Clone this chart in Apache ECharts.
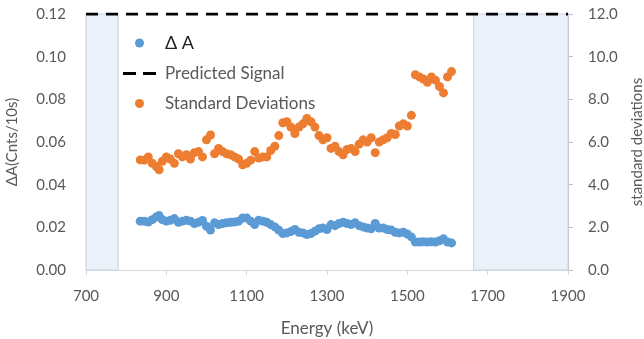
<!DOCTYPE html>
<html>
<head>
<meta charset="utf-8">
<script src="https://cdn.jsdelivr.net/npm/echarts@6/dist/echarts.min.js"></script>
<style>
    html, body {margin: 0; padding: 0; background: #fff;}
    #chart {width: 644px; height: 339px;}
</style>
</head>
<body>
<div id="chart"></div>
<script>
// energies of the measured points (keV)
const energy = [835, 845, 855, 865, 875, 882, 890, 900, 910, 920, 930, 940, 950, 960, 970, 980, 990,
    1000, 1010, 1020, 1030, 1040, 1050, 1060, 1070, 1080, 1090, 1100, 1110, 1120, 1130, 1140, 1150,
    1160, 1170, 1180, 1190, 1200, 1210, 1220, 1230, 1240, 1250, 1260, 1270, 1280, 1290, 1300, 1310,
    1320, 1330, 1340, 1350, 1360, 1370, 1380, 1390, 1400, 1410, 1420, 1430, 1440, 1450, 1460, 1470,
    1480, 1490, 1500, 1510, 1520, 1530, 1540, 1550, 1560, 1570, 1580, 1590, 1600, 1610];

// ΔA (Cnts/10s), left axis
const deltaA = [0.0229, 0.0229, 0.0225, 0.0236, 0.0249, 0.0255, 0.0236, 0.0229, 0.0233, 0.0241, 0.0224,
    0.0229, 0.0233, 0.0229, 0.0218, 0.0224, 0.0232, 0.0205, 0.0187, 0.0221, 0.0213, 0.0218, 0.0221,
    0.0224, 0.0225, 0.0229, 0.0244, 0.0244, 0.0229, 0.0213, 0.0233, 0.0229, 0.0224, 0.0213, 0.0202,
    0.0187, 0.0171, 0.0174, 0.0180, 0.0190, 0.0177, 0.0174, 0.0166, 0.0171, 0.0182, 0.0193, 0.0197,
    0.0190, 0.0213, 0.0208, 0.0218, 0.0224, 0.0218, 0.0213, 0.0221, 0.0208, 0.0202, 0.0197, 0.0193,
    0.0218, 0.0197, 0.0197, 0.0190, 0.0187, 0.0177, 0.0174, 0.0177, 0.0169, 0.0155, 0.0131, 0.0131,
    0.0132, 0.0131, 0.0132, 0.0131, 0.0137, 0.0146, 0.0131, 0.0127];

// standard deviations, right axis
const stdDev = [5.16, 5.15, 5.3, 5.0, 4.85, 4.7, 5.1, 5.3, 5.2, 5.0, 5.45, 5.3, 5.4, 5.2, 5.5, 5.55, 5.3,
    6.1, 6.33, 5.45, 5.7, 5.55, 5.45, 5.4, 5.3, 5.2, 4.93, 5.0, 5.15, 5.55, 5.25, 5.3, 5.3, 5.6, 5.8,
    6.3, 6.9, 6.95, 6.7, 6.4, 6.7, 6.85, 7.1, 6.95, 6.7, 6.3, 6.1, 6.2, 5.7, 5.8, 5.55, 5.4, 5.65, 5.7,
    5.55, 5.9, 6.1, 6.0, 6.2, 5.5, 6.0, 6.1, 6.2, 6.4, 6.35, 6.75, 6.85, 6.75, 7.25, 9.15, 9.05, 8.95,
    8.8, 9.05, 8.9, 8.6, 8.3, 9.05, 9.3];

const predictedSignal = 0.12;
const shadedBands = [[700, 780], [1665, 1900]];

let chart = echarts.init(document.getElementById('chart'));

const labelColor = '#595959';
const font = 'Lato, "Open Sans", sans-serif';

let option = {
    animation: false,
    grid: {left: 86, right: 76, top: 14, bottom: 69, containLabel: false, outerBoundsMode: 'none'},
    legend: {
        orient: 'vertical',
        left: 118,
        top: 29,
        itemGap: 13,
        itemWidth: 33,
        itemHeight: 9,
        textStyle: {color: labelColor, fontSize: 17, fontFamily: font, padding: [0, 0, 0, 4]},
        data: [
            {name: 'Δ A', icon: 'circle', textStyle: {color: '#222', fontSize: 18}},
            // two short dashes, like the dashed series line
            {name: 'Predicted Signal', icon: 'path://M0,0H13V3H0Z M20,0H33V3H20Z'},
            {name: 'Standard Deviations', icon: 'circle'}
        ]
    },
    xAxis: {
        type: 'value',
        min: 700,
        max: 1900,
        interval: 200,
        name: 'Energy (keV)',
        nameLocation: 'middle',
        nameGap: 50,
        nameTextStyle: {color: labelColor, fontSize: 17, fontFamily: font},
        axisLine: {show: true, lineStyle: {color: '#d9d9d9'}},
        axisTick: {show: true, length: 5, lineStyle: {color: '#d9d9d9'}},
        axisLabel: {
            color: labelColor, fontSize: 15, fontFamily: font, margin: 19,
            formatter: function (v) {
                return String(v);
            }
        },
        splitLine: {show: false}
    },
    yAxis: [{
        type: 'value',
        min: 0,
        max: 0.12,
        interval: 0.02,
        name: 'ΔA(Cnts/10s)',
        nameLocation: 'middle',
        nameGap: 66,
        nameTextStyle: {color: labelColor, fontSize: 15, fontFamily: font},
        axisLine: {show: false},
        axisTick: {show: false},
        axisLabel: {
            color: labelColor, fontSize: 15, fontFamily: font, margin: 20,
            formatter: function (v) {
                return v.toFixed(2);
            }
        },
        splitLine: {show: false}
    }, {
        type: 'value',
        min: 0,
        max: 12,
        interval: 2,
        name: 'standard deviations',
        nameLocation: 'middle',
        nameGap: 62,
        nameRotate: 90,
        nameTextStyle: {color: labelColor, fontSize: 15, fontFamily: font},
        axisLine: {show: true, lineStyle: {color: '#bfbfbf'}},
        axisTick: {show: true, length: 5, lineStyle: {color: '#bfbfbf'}},
        axisLabel: {
            color: labelColor, fontSize: 15, fontFamily: font, margin: 20,
            formatter: function (v) {
                return v.toFixed(1);
            }
        },
        splitLine: {show: false}
    }],
    series: [{
        // shaded bands outside the analysed range
        name: 'bands',
        type: 'scatter',
        data: [],
        z: 1,
        silent: true,
        markArea: {
            silent: true,
            itemStyle: {color: '#eaf1f9', borderColor: '#c5d3e2', borderWidth: 1},
            data: shadedBands.map(function (b) {
                return [{xAxis: b[0]}, {xAxis: b[1]}];
            })
        }
    }, {
        name: 'Δ A',
        type: 'scatter',
        yAxisIndex: 0,
        symbolSize: 9,
        z: 3,
        itemStyle: {color: '#5b9bd5', opacity: 1},
        data: energy.map(function (e, i) {
            return [e, deltaA[i]];
        })
    }, {
        name: 'Predicted Signal',
        type: 'line',
        yAxisIndex: 0,
        symbol: 'none',
        z: 4,
        lineStyle: {color: '#000', width: 3, type: [12, 8]},
        itemStyle: {color: '#000'},
        data: [[700, predictedSignal], [1900, predictedSignal]]
    }, {
        name: 'Standard Deviations',
        type: 'scatter',
        yAxisIndex: 1,
        symbolSize: 9,
        z: 3,
        itemStyle: {color: '#ed7d31', opacity: 1},
        data: energy.map(function (e, i) {
            return [e, stdDev[i]];
        })
    }]
};

chart.setOption(option);
</script>
</body>
</html>
